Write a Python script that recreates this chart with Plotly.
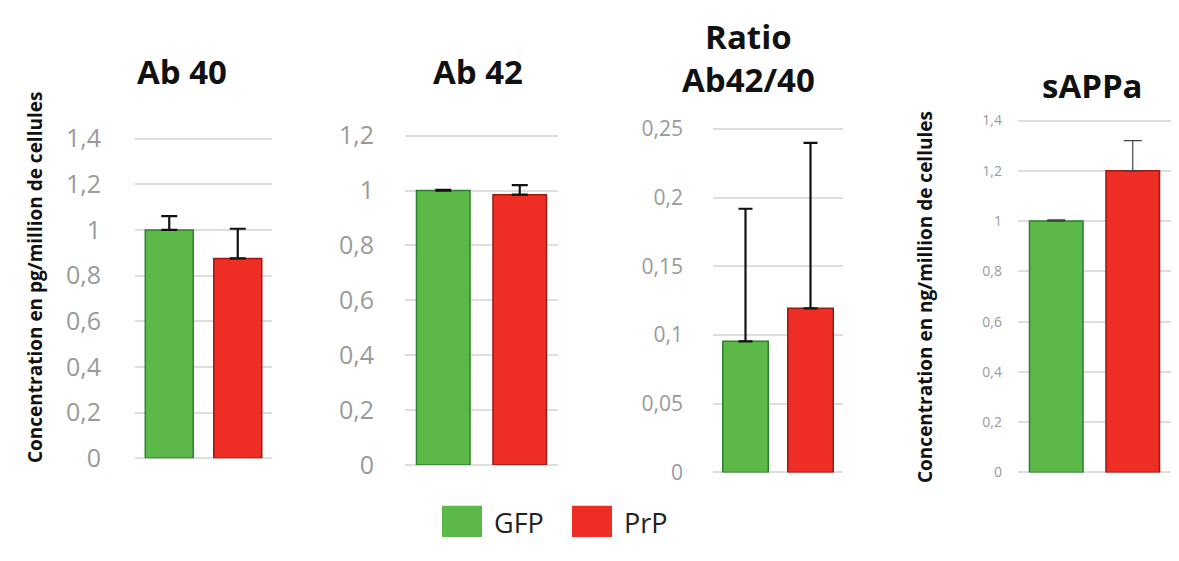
import plotly.graph_objects as go

VW, VH = 1179, 561
M = 8  # default page body margin
W, H = VW - 2 * M, VH - 2 * M

groups = ["GFP", "PrP"]
panel_titles = ["Ab 40", "Ab 42", "Ratio<br>Ab42/40", "sAPPa"]
ab40 = [1.0, 0.875]
ab40_err = [0.06, 0.13]
ab42 = [1.0, 0.985]
ab42_err = [0.003, 0.035]
ratio = [0.0955, 0.1195]
ratio_err = [0.0965, 0.1205]
sappa = [1.0, 1.2]
sappa_err = [0.005, 0.12]

tick_vals_1 = [0, 0.2, 0.4, 0.6, 0.8, 1, 1.2, 1.4]
tick_vals_2 = [0, 0.2, 0.4, 0.6, 0.8, 1, 1.2]
tick_vals_3 = [0, 0.05, 0.1, 0.15, 0.2, 0.25]
tick_vals_4 = [0, 0.2, 0.4, 0.6, 0.8, 1, 1.2, 1.4]

ytitle_1 = "Concentration en pg/million de cellules"
ytitle_4 = "Concentration en ng/million de cellules"

GREEN = "#5cb947"
RED = "#ee2d24"
GREEN_EDGE = "#2d7f31"
RED_EDGE = "#9b1a14"

def px_x(p):
    return min(max((p - M) / W, 0), 1)

def px_y(p):
    return min(max(1 - (p - M) / H, 0), 1)

PAD = 1.02
panels = [
    # values, errors, ticks, x-domain px, y0 px, ytop px, ymax, tick size, standoff, err thickness, cap
    (ab40, ab40_err, tick_vals_1, (135, 272), 470, 133, 1.4, 25, 33, 2.2, 8),
    (ab42, ab42_err, tick_vals_2, (405, 558), 477, 130, 1.2, 25, 30, 2.2, 8),
    (ratio, ratio_err, tick_vals_3, (713, 843), 485, 123, 0.25, 21, 29, 2.2, 7),
    (sappa, sappa_err, tick_vals_4, (1018, 1179), 485, 114, 1.4, 14, 15, 1.2, 9),
]

fig = go.Figure()
layout = dict(
    width=W, height=H,
    margin=dict(l=0, r=0, t=0, b=0),
    paper_bgcolor="white", plot_bgcolor="white",
    showlegend=False, separators=", ",
    bargap=0.3,
    font=dict(family="Open Sans", color="#222"),
)

for i, (vals, errs, ticks, (xa, xb), y0, ytop, ymax, tsize, stand, ew, cap) in enumerate(panels):
    n = "" if i == 0 else str(i + 1)
    fig.add_trace(go.Bar(
        x=groups, y=vals,
        marker=dict(color=[GREEN, RED], line=dict(color=[GREEN_EDGE, RED_EDGE], width=1.5)),
        error_y=dict(type="data", array=errs, symmetric=False, arrayminus=[0, 0],
                     color="#111" if i < 3 else "#444", thickness=ew, width=cap),
        xaxis="x" + n, yaxis="y" + n,
    ))
    layout["xaxis" + n] = dict(
        domain=[px_x(xa), px_x(xb)], anchor="y" + n,
        showticklabels=False, showgrid=False, zeroline=False, showline=False,
        range=[-0.5, 1.5],
    )
    top_px = y0 - (y0 - ytop) * PAD
    layout["yaxis" + n] = dict(
        domain=[px_y(y0), px_y(top_px)], anchor="x" + n,
        range=[0, ymax * PAD],
        tickvals=ticks,
        tickfont=dict(size=tsize, color="#9a9a9a", family="Open Sans"),
        ticklabelstandoff=stand,
        showgrid=True, gridcolor="#dedede", gridwidth=1.5,
        zeroline=True, zerolinecolor="#dedede", zerolinewidth=1.5,
        showline=False, ticks="",
    )

fig.update_layout(**layout)

title_pos = [(182, 62), (478, 62), (748, 48), (1092, 77)]
for t, (cx, cy) in zip(panel_titles, title_pos):
    fig.add_annotation(text="<b>" + t + "</b>", x=px_x(cx), y=px_y(cy),
                       xref="paper", yref="paper", showarrow=False,
                       font=dict(size=33, family="Open Sans", color="#111"),
                       xanchor="center", yanchor="middle")

fig.add_annotation(text="<b>" + ytitle_1 + "</b>", x=px_x(20), y=px_y(280),
                   xref="paper", yref="paper", showarrow=False, textangle=-90,
                   font=dict(size=19, family="Open Sans", color="#111"))
fig.add_annotation(text="<b>" + ytitle_4 + "</b>", x=px_x(940), y=px_y(300),
                   xref="paper", yref="paper", showarrow=False, textangle=-90,
                   font=dict(size=19, family="Open Sans", color="#111"))

# legend
for (x0, color, label) in [(442, GREEN, groups[0]), (572, RED, groups[1])]:
    fig.add_shape(type="rect", xref="paper", yref="paper",
                  x0=px_x(x0), x1=px_x(x0 + 40), y0=px_y(559), y1=px_y(520),
                  fillcolor=color, line=dict(width=0))
    fig.add_annotation(text=label, x=px_x(x0 + 50), y=px_y(538), xref="paper", yref="paper",
                       showarrow=False, xanchor="left", yanchor="middle",
                       font=dict(size=27, family="Open Sans", color="#222"))

fig.write_html("out.html")
